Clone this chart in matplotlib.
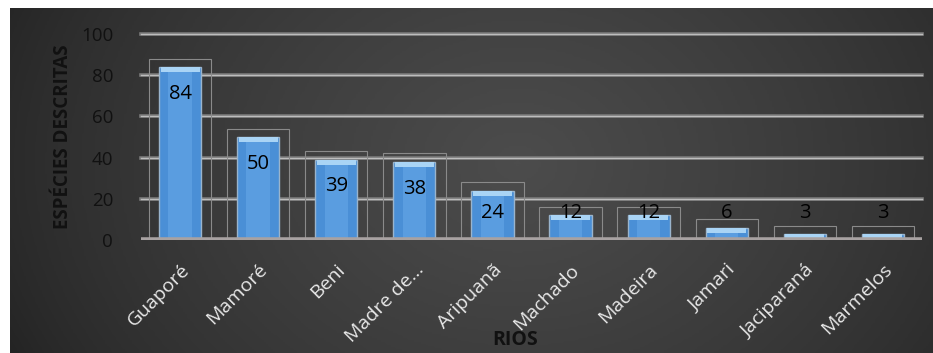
import numpy as np
import matplotlib
matplotlib.use("Agg")
import matplotlib.pyplot as plt

rios = ["Guaporé", "Mamoré", "Beni", "Madre de...", "Aripuanã",
        "Machado", "Madeira", "Jamari", "Jaciparaná", "Marmelos"]
especies = [84, 50, 39, 38, 24, 12, 12, 6, 3, 3]
y_ticks = [0, 20, 40, 60, 80, 100]

plt.rcParams["font.family"] = ["Open Sans", "DejaVu Sans"]

fig = plt.figure(figsize=(9.33, 3.53), dpi=100)
fig.patch.set_facecolor("white")

# dark background panel with a soft radial shading
bg = fig.add_axes([10 / 933, 0, 923 / 933, 345 / 353], zorder=-1)
gx, gy = np.meshgrid(np.linspace(0, 1, 400), np.linspace(0, 1, 160))
r = np.sqrt(((gx - 0.55) / 0.62) ** 2 + ((gy - 0.45) / 1.3) ** 2)
shade = np.clip(1 - r, 0, 1) ** 0.7
bg.imshow(shade, cmap=matplotlib.colors.LinearSegmentedColormap.from_list(
    "bgc", ["#242424", "#4c4c4c"]), aspect="auto", extent=[0, 1, 0, 1])
bg.axis("off")

ax = fig.add_axes([141 / 933, 113 / 353, 781 / 933, 206 / 353])
ax.set_facecolor("none")
x = np.arange(len(rios))

ax.set_xlim(-0.5, len(rios) - 0.5)
ax.set_ylim(0, 100)
for t in y_ticks[1:]:
    ax.axhline(t, color="#7a7a7a", lw=2.6, zorder=1, clip_on=False)
    ax.axhline(t, color="#bdbdbd", lw=1.0, zorder=1, clip_on=False)
ax.axhline(0, color="#a8a2a2", lw=4, zorder=4)

# faint frames around the bars
ax.bar(x, [v + 4 for v in especies], width=0.8, facecolor="none",
       edgecolor="#8a8a8a", lw=0.8, zorder=2)
ax.bar(x, especies, width=0.54, color="#4a8fd6", edgecolor="#9ab4cc",
       lw=1.0, zorder=3)
ax.bar(x, especies, width=0.3, color="#5a9de0", lw=0, zorder=3)
ax.bar(x, [min(2.5, v) for v in especies],
       bottom=[v - min(2.5, v) for v in especies], width=0.5,
       color="#a9d4f5", lw=0, zorder=3)

for xi, v in zip(x, especies):
    ax.text(xi, max(v - 13, 13), str(v), ha="center", va="center",
            fontsize=14.5, color="black", zorder=5)

ax.set_yticks(y_ticks)
ax.set_yticklabels([str(t) for t in y_ticks], fontsize=13.5, color="#111111")
ax.set_xticks(x)
ax.set_xticklabels(rios, rotation=45, ha="right", rotation_mode="anchor",
                   fontsize=14, color="#e8e8e8")
ax.tick_params(length=0, axis="y", pad=20)
ax.tick_params(length=0, axis="x", pad=15)
for s in ax.spines.values():
    s.set_visible(False)

ax.set_ylabel("ESPÉCIES DESCRITAS", fontsize=13.5, fontweight="bold",
              color="#111111", labelpad=6)
fig.text(515 / 933, 1 - 340 / 353, "RIOS", fontsize=14, fontweight="bold",
         color="#111111", ha="center", va="center")

fig.savefig("out.png", dpi=100)
